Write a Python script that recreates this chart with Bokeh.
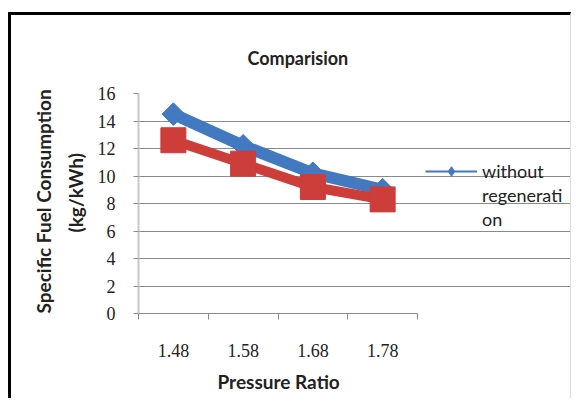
import math

from bokeh.embed import file_html
from bokeh.models import (ColumnDataSource, FixedTicker, Legend, LegendItem,
                          Range1d, Title)
from bokeh.plotting import figure
from bokeh.resources import INLINE

# Pressure ratio categories and specific fuel consumption (kg/kWh)
pressure_ratios = ["1.48", "1.58", "1.68", "1.78"]
sfc_without_regen = [14.5, 12.2, 10.2, 9.0]
sfc_with_regen = [12.6, 10.9, 9.2, 8.3]
y_ticks = [0, 2, 4, 6, 8, 10, 12, 14, 16]
legend_lines = ["without", "regenerati", "on"]

BLUE = "#4379C0"
RED = "#CD3D3A"
GRID = "#8a8a8a"
INK = "#222222"
SANS = "Lato"
SERIF = "Liberation Serif"

W, H = 563, 386
LEFT, BOTTOM, TOP = 127, 88, 78
PLOT_W = 279  # width of the gridded plot area; the frame also hosts the legend

n = len(pressure_ratios)
centers = [i + 0.5 for i in range(n)]
bounds = [float(i) for i in range(n + 1)]
x_end = n * (W - LEFT) / PLOT_W

src = ColumnDataSource(dict(x=centers, a=sfc_without_regen, b=sfc_with_regen))

p = figure(
    width=W, height=H,
    x_range=Range1d(0, x_end),
    y_range=Range1d(y_ticks[0], y_ticks[-1]),
    output_backend="svg", toolbar_location=None,
    min_border_left=LEFT, min_border_right=0,
    min_border_top=TOP, min_border_bottom=BOTTOM,
    background_fill_color="white", border_fill_color="white",
    styles={
        "margin-left": "8px",
        "margin-top": "12px",
        "border-top": "3px solid black",
        "border-left": "3px solid black",
        "border-right": "1px solid #dcdcdc",
    },
)
p.outline_line_color = None

# chart title
p.title.text = "Comparision"
p.title.align = "left"
p.title.offset = 109
p.title.standoff = 49
p.title.text_font = SANS
p.title.text_font_size = "18px"
p.title.text_font_style = "bold"
p.title.text_color = INK

# axes
p.xaxis.bounds = (0, n)
p.xaxis.ticker = FixedTicker(ticks=centers, minor_ticks=bounds)
p.xaxis.major_label_overrides = {c: lab for c, lab in zip(centers, pressure_ratios)}
p.xaxis.major_tick_in = 0
p.xaxis.major_tick_out = 0
p.xaxis.minor_tick_in = 0
p.xaxis.minor_tick_out = 6
p.xaxis.minor_tick_line_color = GRID
p.xaxis.axis_line_color = GRID
p.xaxis.major_label_standoff = 24

p.yaxis.ticker = FixedTicker(ticks=y_ticks)
p.yaxis.axis_line_color = "#c8c8c8"
p.yaxis.axis_line_width = 2
p.yaxis.major_tick_in = 0
p.yaxis.major_tick_out = 5
p.yaxis.major_tick_line_color = GRID
p.yaxis.minor_tick_line_color = None
p.yaxis.major_label_standoff = 18

for ax in (p.xaxis, p.yaxis):
    ax.major_label_text_font = SERIF
    ax.major_label_text_font_size = "18px"
    ax.major_label_text_color = INK

title_style = dict(text_font=SANS, text_font_size="19px",
                   text_font_style="bold", text_color=INK)

# x axis title, under the gridded area
p.add_layout(Title(text="Pressure Ratio", align="left", offset=79,
                   standoff=17, text_line_height=0.7, **title_style), "below")

# two-line y axis title, stacked outward from the axis
p.add_layout(Title(text="(kg/kWh)", align="left", offset=81, standoff=15,
                   **title_style), "left")
p.add_layout(Title(text="Specific Fuel Consumption", align="left", offset=0,
                   standoff=0, **title_style), "left")

p.xgrid.visible = False
p.ygrid.grid_line_color = GRID
p.ygrid.grid_line_width = 1
p.ygrid.bounds = (0, n)

# series
p.line("x", "a", source=src, color=BLUE, line_width=12)
p.scatter("x", "a", source=src, marker="square", angle=math.pi / 4,
          size=16, fill_color=BLUE, line_color=BLUE)
p.line("x", "b", source=src, color=RED, line_width=10)
p.scatter("x", "b", source=src, marker="square", size=25,
          fill_color=RED, line_color=RED)

# thin proxy glyphs for the legend entry
leg_line = p.line("x", "a", source=src, color=BLUE, line_width=2, visible=False)
leg_mark = p.scatter("x", "a", source=src, marker="diamond", size=9,
                     fill_color=BLUE, line_color=BLUE, visible=False)
blank = p.line([], [], line_alpha=0, visible=False)

items = [LegendItem(label=legend_lines[0], renderers=[leg_line, leg_mark])]
items += [LegendItem(label=t, renderers=[blank]) for t in legend_lines[1:]]

legend = Legend(
    items=items,
    location=(287, 82),
    padding=0, margin=0, spacing=0,
    glyph_width=52, glyph_height=24, label_height=24,
    label_standoff=5,
    label_text_font=SANS, label_text_font_size="18px",
    label_text_color=INK,
    border_line_color=None, background_fill_alpha=0,
)
p.add_layout(legend, "center")

open("out.html", "w").write(file_html(p, INLINE))
